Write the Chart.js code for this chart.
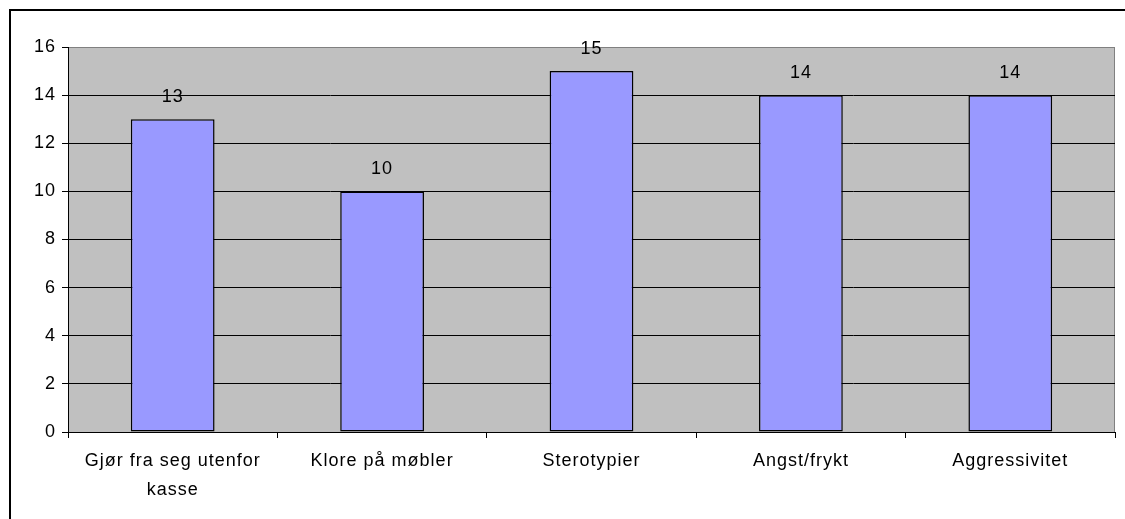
<!DOCTYPE html>
<html>
<head>
<meta charset="utf-8">
<script src="https://cdn.jsdelivr.net/npm/chart.js@4/dist/chart.umd.min.js"></script>
<style>
  body { margin: 0; background: #fff; }
  #wrap { position: relative; width: 1125px; height: 519px; }
  #frame { position: absolute; left: 9px; top: 9px; width: 1200px; height: 600px;
           border-left: 2px solid #000; border-top: 2px solid #000; pointer-events: none; }
</style>
</head>
<body>
<div id="wrap">
  <canvas id="chartCanvas" width="1125" height="519"></canvas>
  <div id="frame"></div>
</div>
<script>
const categories = [['Gjør fra seg utenfor', 'kasse'], 'Klore på møbler', 'Sterotypier', 'Angst/frykt', 'Aggressivitet'];
const values = [13, 10, 15, 14, 14];
const yMax = 16;
const yStep = 2;

const fontFamily = '"Liberation Sans", Arial, sans-serif';

// grey plot area + data labels over the bars
const plotBack = {
    id: 'plotBack',
    beforeUpdate(chart) {
        // the old office rendering spreads the letters a bit
        chart.ctx.letterSpacing = '1px';
    },
    beforeDraw(chart) {
        const a = chart.chartArea;
        const ctx = chart.ctx;
        ctx.letterSpacing = '1px';
        ctx.save();
        ctx.fillStyle = '#C0C0C0';
        ctx.fillRect(a.left, a.top, a.right - a.left, a.bottom - a.top);
        ctx.strokeStyle = '#808080';
        ctx.lineWidth = 1;
        ctx.beginPath();
        ctx.moveTo(a.left, a.top + 0.5);
        ctx.lineTo(a.right - 0.5, a.top + 0.5);
        ctx.lineTo(a.right - 0.5, a.bottom);
        ctx.stroke();
        ctx.restore();
    },
    afterDatasetsDraw(chart) {
        const ctx = chart.ctx;
        const meta = chart.getDatasetMeta(0);
        ctx.save();
        ctx.font = '18px ' + fontFamily;
        ctx.fillStyle = '#000';
        ctx.textAlign = 'center';
        ctx.textBaseline = 'alphabetic';
        meta.data.forEach((bar, i) => {
            ctx.fillText(String(values[i]), bar.x, bar.y - 17);
        });
        ctx.restore();
    }
};

const canvas = new Chart(document.getElementById('chartCanvas'), {
    type: 'bar',
    data: {
        labels: categories,
        datasets: [{
            data: values,
            backgroundColor: '#9999FF',
            borderColor: '#000000',
            borderWidth: 1.5,
            borderSkipped: false,
            categoryPercentage: 1,
            barPercentage: 0.4
        }]
    },
    options: {
        responsive: false,
        animation: false,
        layout: { padding: { top: 47, right: 10, left: 0, bottom: 0 } },
        plugins: {
            legend: { display: false },
            tooltip: { enabled: false }
        },
        scales: {
            x: {
                offset: true,
                grid: {
                    offset: true,
                    drawOnChartArea: false,
                    tickLength: 6,
                    color: '#000',
                    tickColor: '#000'
                },
                border: { color: '#000', width: 1 },
                ticks: {
                    color: '#000',
                    padding: 9,
                    maxRotation: 0,
                    autoSkip: false,
                    font: { family: fontFamily, size: 18, lineHeight: 1.6 }
                },
                afterFit(scale) { scale.height = 87; }
            },
            y: {
                min: 0,
                max: yMax,
                grid: {
                    tickLength: 6,
                    color: (c) => (c.tick && c.tick.value === yMax ? '#808080' : '#000'),
                    tickColor: '#000'
                },
                border: { color: '#000', width: 1 },
                ticks: {
                    stepSize: yStep,
                    color: '#000',
                    padding: 6,
                    font: { family: fontFamily, size: 18 }
                },
                afterFit(scale) { scale.width = 68; }
            }
        }
    },
    plugins: [plotBack]
});
</script>
</body>
</html>
